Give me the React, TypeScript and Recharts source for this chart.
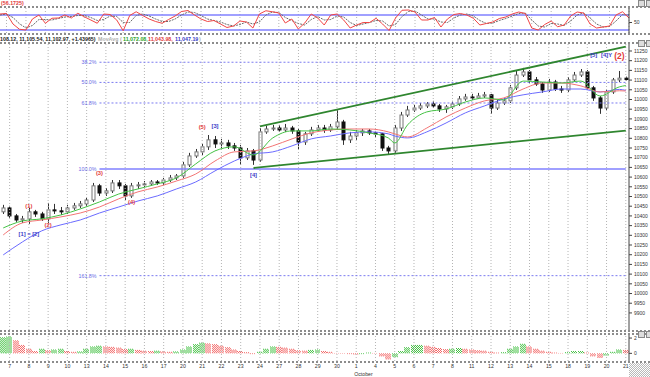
import React from "react";
import { ComposedChart, Bar, Line, XAxis, YAxis, ReferenceLine, ReferenceDot } from "recharts";

const FONT = "'Liberation Sans', Arial, sans-serif";

// trading days shown on the time axis (Sep 7 .. Oct 21), three bars per day
const dayLabels = ["7", "8", "9", "10", "13", "14", "15", "16", "17", "20", "21", "22", "23", "24", "27", "28", "29", "30",
  "1", "4", "5", "6", "7", "8", "11", "12", "13", "14", "15", "18", "19", "20", "21"];

const opens = [10421, 10441, 10400, 10379, 10385, 10421, 10410, 10385, 10431, 10426,
  10421, 10441, 10452, 10462, 10482, 10555, 10518, 10529, 10570, 10555,
  10503, 10555, 10560, 10565, 10575, 10570, 10585, 10596, 10606, 10663,
  10709, 10730, 10756, 10792, 10771, 10776, 10761, 10750, 10699, 10735,
  10688, 10833, 10848, 10853, 10843, 10853, 10838, 10781, 10823, 10843,
  10853, 10843, 10859, 10884, 10792, 10812, 10828, 10838, 10828, 10823,
  10750, 10735, 10853, 10920, 10946, 10956, 10967, 10977, 10967, 10951,
  10962, 10977, 11003, 11013, 11008, 11018, 11024, 10956, 10982, 10993,
  11060, 11126, 11142, 11101, 11080, 11049, 11090, 11054, 11049, 11101,
  11126, 11142, 11060, 11008, 10956, 11039, 11101, 11110];
const highs = [10457, 10452, 10410, 10400, 10441, 10431, 10421, 10467, 10462, 10446,
  10457, 10467, 10477, 10493, 10570, 10565, 10544, 10585, 10585, 10565,
  10570, 10575, 10580, 10585, 10585, 10596, 10611, 10616, 10678, 10725,
  10745, 10771, 10817, 10812, 10797, 10792, 10776, 10766, 10750, 10745,
  10853, 10864, 10869, 10869, 10874, 10864, 10848, 10833, 10859, 10869,
  10869, 10874, 10946, 10895, 10833, 10843, 10848, 10848, 10838, 10828,
  10761, 10869, 10936, 10967, 10972, 10982, 10987, 10993, 10977, 10972,
  10993, 11018, 11029, 11029, 11034, 11039, 11029, 10998, 11008, 11075,
  11147, 11163, 11152, 11116, 11090, 11106, 11101, 11070, 11116, 11142,
  11157, 11152, 11070, 11018, 11049, 11111, 11147, 11118];
const lows = [10410, 10390, 10369, 10364, 10359, 10395, 10374, 10364, 10410, 10405,
  10410, 10431, 10441, 10452, 10472, 10503, 10503, 10518, 10539, 10482,
  10493, 10539, 10549, 10555, 10560, 10560, 10575, 10585, 10596, 10652,
  10699, 10714, 10740, 10750, 10750, 10745, 10735, 10663, 10688, 10663,
  10678, 10823, 10838, 10833, 10833, 10823, 10740, 10766, 10812, 10833,
  10828, 10833, 10843, 10766, 10776, 10792, 10812, 10817, 10807, 10735,
  10719, 10725, 10838, 10910, 10936, 10946, 10956, 10956, 10936, 10931,
  10951, 10967, 10993, 10998, 11003, 11008, 10926, 10946, 10972, 10982,
  11049, 11116, 11085, 11070, 11034, 11039, 11044, 11034, 11039, 11090,
  11116, 11049, 10993, 10926, 10946, 11029, 11090, 11098];
const closes = [10441, 10400, 10379, 10385, 10421, 10410, 10385, 10431, 10426, 10421,
  10441, 10452, 10462, 10482, 10555, 10518, 10529, 10570, 10555, 10503,
  10555, 10560, 10565, 10575, 10570, 10585, 10596, 10606, 10663, 10709,
  10730, 10756, 10792, 10771, 10776, 10761, 10750, 10699, 10735, 10688,
  10833, 10848, 10853, 10843, 10853, 10838, 10781, 10823, 10843, 10853,
  10843, 10859, 10884, 10792, 10812, 10828, 10838, 10828, 10823, 10750,
  10735, 10853, 10920, 10946, 10956, 10967, 10977, 10967, 10951, 10962,
  10977, 11003, 11013, 11008, 11018, 11024, 10956, 10982, 10993, 11060,
  11126, 11142, 11101, 11080, 11049, 11090, 11054, 11049, 11101, 11126,
  11142, 11060, 11008, 10956, 11039, 11101, 11110, 11103];

// moving averages, read at these bar rows
const maRows = [0, 3, 6, 9, 12, 15, 18, 21, 24, 27, 30, 33, 36, 39, 42, 45, 48, 51, 54, 57, 60, 61, 63, 66, 69, 72, 75, 78, 81, 84, 87, 90, 93, 96, 97];
const maGreen = [10338, 10374, 10385, 10405, 10436, 10472, 10513, 10539, 10565, 10596, 10668, 10735, 10756, 10714, 10802, 10838, 10838, 10848, 10843, 10828, 10802, 10776, 10869, 10936, 10951, 10987, 11008, 10998, 11095, 11090, 11085, 11095, 11018, 11065, 11072];
const maRed = [10302, 10364, 10379, 10395, 10415, 10446, 10488, 10524, 10549, 10580, 10616, 10683, 10730, 10735, 10761, 10797, 10828, 10843, 10848, 10848, 10833, 10823, 10807, 10853, 10910, 10956, 10993, 11008, 11054, 11085, 11085, 11070, 11039, 11045, 11044];
const maBlue = [10199, 10266, 10323, 10354, 10379, 10415, 10446, 10477, 10503, 10539, 10575, 10632, 10683, 10719, 10730, 10761, 10797, 10812, 10828, 10833, 10823, 10812, 10802, 10833, 10879, 10931, 10967, 11003, 11024, 11039, 11054, 11054, 11039, 11052, 11047];

// stochastic-type oscillator (top pane)
const oscFast = [84, 86, 44, 23, 20, 64, 80, 47, 67, 68, 80, 68, 87, 73, 60, 47, 84, 82, 60, 17,
  78, 93, 78, 64, 54, 47, 62, 76, 94, 98, 80, 64, 54, 58, 44, 30, 36, 56, 52, 28,
  84, 97, 93, 88, 48, 64, 24, 48, 84, 68, 40, 80, 84, 60, 28, 40, 50, 50, 67, 44,
  18, 68, 99, 100, 92, 60, 60, 70, 32, 64, 82, 86, 80, 67, 40, 46, 52, 66, 72, 84,
  92, 86, 28, 20, 42, 56, 33, 40, 76, 92, 88, 44, 28, 32, 36, 80, 93, 68];
const oscSlow = [80, 84, 70, 45, 28, 38, 62, 62, 60, 66, 72, 74, 78, 78, 70, 58, 62, 76, 74, 50,
  50, 78, 84, 76, 64, 54, 54, 64, 80, 92, 90, 78, 64, 58, 52, 42, 36, 42, 52, 44,
  52, 80, 92, 90, 70, 58, 46, 40, 62, 74, 60, 62, 76, 72, 50, 38, 44, 50, 58, 56,
  36, 42, 74, 94, 96, 80, 64, 64, 52, 50, 68, 80, 84, 76, 58, 46, 48, 58, 66, 76,
  86, 88, 60, 36, 32, 46, 44, 38, 56, 80, 88, 68, 44, 32, 34, 56, 82, 80];

// histogram (bottom pane)
const histValues = [2.1, 2.2, 1.7, 1.1, 0.6, 0.3, 0.6, 0.4, 0.5, 0.6, 0.3, 0.2, 0.25, 0.6, 0.9, 1.0, 0.9, 0.85, 0.75, 0.55,
  0.6, 0.45, 0.35, 0.3, 0.35, 0.25, 0.2, 0.25, 0.5, 0.9, 1.2, 1.4, 1.3, 1.2, 1.0, 0.8, 0.5, 0.3, 0.15, -0.1,
  0.2, 0.6, 0.9, 0.85, 0.75, 0.6, 0.4, 0.35, 0.45, 0.5, 0.3, 0.2, 0.05, -0.05, -0.1, -0.15, -0.1, 0.1, 0.05, -0.4,
  -0.8, -0.5, 0.3, 0.8, 1.1, 1.1, 1.0, 0.85, 0.7, 0.55, 0.6, 0.7, 0.6, 0.5, 0.4, 0.35, 0.2, 0.1, 0.15, 0.6,
  0.9, 1.25, 0.9, 0.6, 0.35, 0.2, 0.1, 0.05, 0.15, 0.3, 0.3, 0.1, -0.4, -0.6, -0.3, 0.2, 0.5, 0.45];

const priceTicks = [9900, 9950, 10000, 10050, 10100, 10150, 10200, 10250, 10300, 10350, 10400, 10450, 10500, 10550,
  10600, 10650, 10700, 10750, 10800, 10850, 10900, 10950, 11000, 11050, 11100, 11150, 11200, 11250];

const fibLabels = ["38.2%", "50.0%", "61.8%", "100.0%", "161.8%"];
const fibPrices = [11192, 11088, 10982, 10642, 10092];

const upperChannelRows = [40, 97];
const upperChannel = [10861, 11273];
const lowerChannelRows = [39, 97];
const lowerChannel = [10647, 10840];

const waveText = ["(1)", "(2)", "[1] = [2]", "(3)", "(4)", "(5)", "[3]", "[4]", "[5]", "[4]Y", "(2)"];
const waveRows = [4, 7, 4, 15, 20, 31, 33, 39, 92, 94, 96];
const wavePrices = [10452, 10354, 10307, 10622, 10472, 10859, 10864, 10611, 11229, 11229, 11224];

const RED = "#e23a3a";
const BLUE = "#3a3ac8";

const rows: any[] = opens.map((open, i) => ({
  key: "r" + i,
  open,
  high: highs[i],
  low: lows[i],
  close: closes[i],
  range: [lows[i], highs[i]],
  fast: oscFast[i],
  slow: oscSlow[i],
  hist: histValues[i],
  rising: i === 0 || histValues[i] >= histValues[i - 1],
  g: null,
  rd: null,
  b: null,
}));
maRows.forEach((r, j) => {
  rows[r].g = maGreen[j];
  rows[r].rd = maRed[j];
  rows[r].b = maBlue[j];
});

const dayKeys = dayLabels.map((_, i) => "r" + (1 + 3 * i));

const Candle = (props: any) => {
  const { x, y, width, height, payload } = props;
  if (!payload || height == null) return null;
  const { open, close, high, low } = payload;
  const k = height / (high - low);
  const yO = y + (high - open) * k;
  const yC = y + (high - close) * k;
  const cx = Math.round(x + width / 2) + 0.5;
  const top = Math.min(yO, yC);
  const h = Math.max(1, Math.abs(yC - yO));
  const up = close >= open;
  return (
    <g>
      <line x1={cx} x2={cx} y1={y} y2={y + height} stroke="#333" strokeWidth={1} />
      <rect x={cx - 1.5} y={top} width={3} height={h} fill={up ? "#fff" : "#111"} stroke={up ? "#777" : "#111"} strokeWidth={1} />
    </g>
  );
};

// striped, checker-like histogram bar as in the source terminal
const HistBar = (props: any) => {
  const { x, y, width, height, payload } = props;
  if (!payload || height == null) return null;
  const top = Math.min(y, y + height);
  const h = Math.abs(height);
  const color = payload.rising ? "#3fbf3f" : "#f26464";
  const xs = [];
  for (let px = Math.round(x) + 0.5; px < x + width; px += 1) xs.push(px);
  return (
    <g>
      {xs.map((px, j) => (
        <line key={px} x1={px} x2={px} y1={top} y2={top + h} stroke={color} strokeWidth={1}
          strokeDasharray="1 1" strokeDashoffset={j % 2} />
      ))}
    </g>
  );
};

const DayTick = (props: any) => {
  const { x, y, payload } = props;
  const idx = dayKeys.indexOf(payload.value);
  if (idx < 0) return null;
  return (
    <g>
      <text x={x} y={y + 7} fontSize={5.2} fontFamily={FONT} fill="#333" textAnchor="middle">{dayLabels[idx]}</text>
      {idx === 18 && (
        <text x={x - 2} y={y + 14.5} fontSize={5.2} fontFamily={FONT} fill="#333">October</text>
      )}
    </g>
  );
};

const gridLines = (prefix: string) =>
  dayKeys.map((k) => <ReferenceLine key={prefix + k} x={k} stroke="#b4b4b4" strokeDasharray="1 2" />);

const axisTick = { fontSize: 5, fontFamily: FONT, fill: "#333" };

const Sep = ({ top }: { top: number }) => (
  <div style={{ position: "absolute", left: 0, top, width: 650, height: 0, borderTop: "2px dotted #8c8c8c" }} />
);

const Icons = ({ top }: { top: number }) => (
  <div style={{ position: "absolute", left: 638, top, display: "flex", gap: 1 }}>
    <div style={{ width: 5, height: 5, border: "1px solid #888", background: "#ddd" }} />
    <div style={{ width: 5, height: 5, border: "1px solid #888", background: "#ddd" }} />
  </div>
);

export default function App() {
  return (
    <div style={{ position: "relative", width: 650, height: 377, background: "#fff", overflow: "hidden" }}>
      <style>{"body{margin:0;}"}</style>

      <svg width={650} height={44} style={{ position: "absolute", left: 0, top: 0 }}>
        <text x={1} y={5} fontSize={5.3} fontWeight="bold" fontFamily={FONT} fill={RED}>(56.1725)</text>
        <text y={40.5} fontSize={5.3} fontWeight="bold" fontFamily={FONT}>
          <tspan x={0} fill="#222">108.12, 11,105.54, 11,102.97, +1.43965)</tspan>
          <tspan x={98} fill="#b0b0b0">MovAvg (</tspan>
          <tspan x={123} fill="#2aa52a">11,072.08,</tspan>
          <tspan x={148} fill={RED}>11,043.98,</tspan>
          <tspan x={175} fill={BLUE}>11,047.19</tspan>
          <tspan x={199} fill="#b0b0b0">)</tspan>
        </text>
      </svg>

      <Sep top={6} />
      <Icons top={0} />
      <div style={{ position: "absolute", left: 0, top: 8 }}>
        <ComposedChart width={650} height={25} data={rows} margin={{ top: 0, right: 0, bottom: 0, left: 0 }}>
          <XAxis dataKey="key" hide />
          <YAxis orientation="right" width={21} domain={[8, 108]} ticks={[50]} allowDataOverflow
            tick={axisTick} tickSize={3} tickMargin={2} axisLine={{ stroke: "#444" }} tickLine={{ stroke: "#444" }} />
          {gridLines("o")}
          <ReferenceLine y={80} stroke="#8080ff" strokeWidth={1.5} />
          <ReferenceLine y={20} stroke="#8080ff" strokeWidth={1.5} />
          <Line dataKey="slow" stroke="#6a6a6a" strokeWidth={1} strokeDasharray="2 1" dot={false} isAnimationActive={false} />
          <Line dataKey="fast" stroke="#f04545" strokeWidth={1} dot={false} isAnimationActive={false} />
        </ComposedChart>
      </div>
      <Sep top={33} />

      <Sep top={42} />
      <Icons top={40} />
      <div style={{ position: "absolute", left: 0, top: 44 }}>
        <ComposedChart width={650} height={286} data={rows} margin={{ top: 0, right: 0, bottom: 0, left: 0 }}>
          <XAxis dataKey="key" hide />
          <YAxis orientation="right" width={21} domain={[9812, 11286]} ticks={priceTicks} interval={0} allowDataOverflow
            tick={axisTick} tickSize={3} tickMargin={2} axisLine={{ stroke: "#444" }} tickLine={{ stroke: "#444" }} />
          {gridLines("m")}
          {fibPrices.map((p, i) => (
            <ReferenceLine key={"fib" + i}
              segment={[{ x: "r15", y: p }, { x: "r97", y: p }]}
              stroke={i === 3 ? "#8080ff" : "#7a7af0"}
              strokeWidth={i === 3 ? 1.5 : 1}
              strokeDasharray={i === 3 ? undefined : "2 2"}
              label={{ value: fibLabels[i], position: "left", offset: 3, fill: "#6a6ae6", fontSize: 5.3, fontFamily: FONT }} />
          ))}
          <ReferenceLine
            segment={[{ x: "r" + upperChannelRows[0], y: upperChannel[0] }, { x: "r" + upperChannelRows[1], y: upperChannel[1] }]}
            stroke="#2f862f" strokeWidth={1.8} />
          <ReferenceLine
            segment={[{ x: "r" + lowerChannelRows[0], y: lowerChannel[0] }, { x: "r" + lowerChannelRows[1], y: lowerChannel[1] }]}
            stroke="#2f862f" strokeWidth={1.8} />
          <Line dataKey="b" type="monotone" stroke="#6b6bff" strokeWidth={1} dot={false} connectNulls isAnimationActive={false} />
          <Line dataKey="rd" type="monotone" stroke="#f27474" strokeWidth={1} dot={false} connectNulls isAnimationActive={false} />
          <Line dataKey="g" type="monotone" stroke="#45c245" strokeWidth={1} dot={false} connectNulls isAnimationActive={false} />
          <Bar dataKey="range" barSize={4} shape={<Candle />} isAnimationActive={false} />
          {waveText.map((t, i) => (
            <ReferenceDot key={"w" + i} x={"r" + waveRows[i]} y={wavePrices[i]} r={0}
              shape={(p: any) => (
                <text x={p.cx} y={p.cy} textAnchor="middle" dominantBaseline="central"
                  fontSize={i === 10 ? 8.5 : 5.8} fontWeight="bold" fontFamily={FONT}
                  fill={t.startsWith("(") ? RED : BLUE}>{t}</text>
              )} />
          ))}
        </ComposedChart>
      </div>
      <Sep top={330} />
      <Sep top={333} />

      <Icons top={331} />
      <div style={{ position: "absolute", left: 0, top: 335 }}>
        <ComposedChart width={650} height={42} data={rows} margin={{ top: 0, right: 0, bottom: 0, left: 0 }}>
          <XAxis dataKey="key" ticks={dayKeys} interval={0} height={16} tick={<DayTick />}
            tickLine={false} axisLine={false} tickSize={0} tickMargin={0} />
          <YAxis orientation="right" width={21} domain={[-1, 2.4]} ticks={[0, 1, 2]} allowDataOverflow
            tick={axisTick} tickSize={3} tickMargin={2} axisLine={{ stroke: "#444" }} tickLine={{ stroke: "#444" }} />
          {gridLines("h")}
          <Bar dataKey="hist" barSize={6} shape={<HistBar />} isAnimationActive={false} />
        </ComposedChart>
      </div>
      <Sep top={361} />
      <div style={{
        position: "absolute", left: 629, top: 363, width: 21, height: 14,
        background: "repeating-conic-gradient(#b8b8b8 0 25%, #fff 0 50%) 0 0/2px 2px",
      }} />
    </div>
  );
}
